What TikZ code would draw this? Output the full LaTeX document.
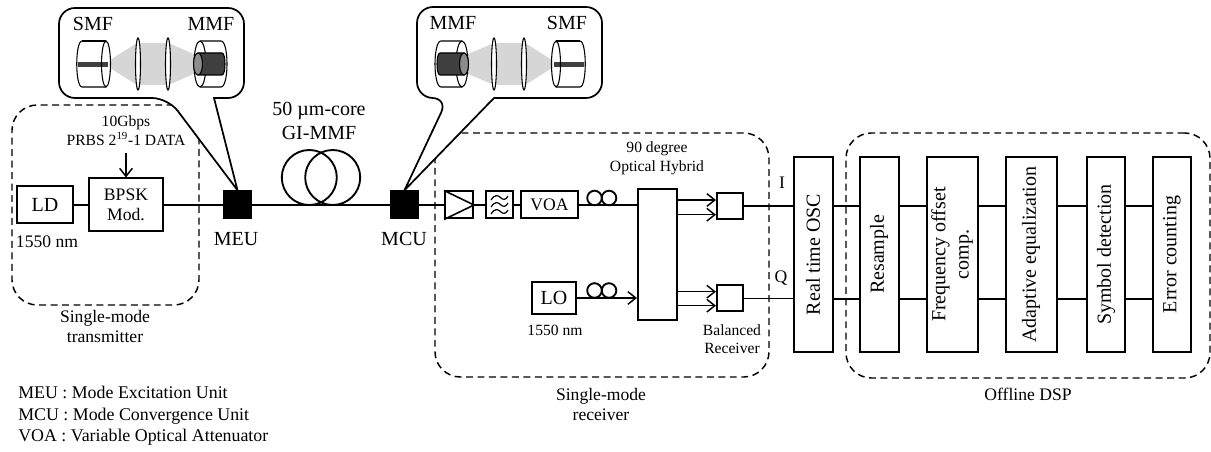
\documentclass[tikz,border=0pt]{standalone}
\usepackage{fontspec}
\setmainfont{Liberation Serif}
\usetikzlibrary{arrows.meta}
\tikzset{
  boxed/.style 2 args={draw, line width=1.5pt, inner sep=0pt, fill=white, minimum width=#1*0.75pt, minimum height=#2*0.75pt},
  solid box/.style 2 args={fill=black, inner sep=0pt, minimum width=#1*0.75pt, minimum height=#2*0.75pt},
  group/.style 2 args={draw, line width=1.1pt, dash pattern=on 5.2pt off 3.4pt, rounded corners=19pt, inner sep=0pt, minimum width=#1*0.75pt, minimum height=#2*0.75pt},
  big/.style={inner sep=0pt, align=center, font=\fontsize{15}{17.5}\selectfont},
  mid/.style={inner sep=0pt, align=center, font=\fontsize{13.2}{15}\selectfont},
  small/.style={inner sep=0pt, align=center, font=\fontsize{11.7}{14}\selectfont},
  fib/.style={line width=1.1pt},
  arr/.style={line width=1.1pt, -{Straight Barb[length=6pt,width=9.5pt,line width=1.1pt]}}
}
% one lens pair with its fibre ends, drawn once as it is and once mirrored
\newcommand{\lensoptics}[1]{
\begin{scope}[#1, line width=0.8pt]
\fill[black!16] (110,60) -- (137,43) -- (168,43) -- (196,55) -- (196,73) -- (168,85) -- (137,85) -- (110,68) -- cycle;
\foreach \lx in {138,168} \draw[fill=white] (\lx,64) ellipse [x radius=2.5, y radius=26];
\draw (82,41) .. controls (75,41) and (75,87) .. (82,87) -- (106,87);
\draw (82,41) -- (106,41);
\fill[black!75] (78,62) rectangle (108,67);
\draw (106,64) ellipse [x radius=4.5, y radius=23];
\draw (200,41) -- (221,41) .. controls (229,41) and (229,87) .. (221,87) -- (200,87);
\draw (200,64) ellipse [x radius=6, y radius=23];
\draw[fill=black!75] (198,53) -- (222,53) .. controls (226,53) and (226,75) .. (222,75) -- (198,75) -- cycle;
\draw[fill=black!45] (198,64) ellipse [x radius=4.5, y radius=11];
\end{scope}
}
\begin{document}
\begin{tikzpicture}[x=0.75pt, y=-0.75pt]
\useasboundingbox (0,0) rectangle (1211,452);

\node[group={187}{200}] (TX) at (105.5,205) {};
\node[group={334}{244}] (RX) at (602,255) {};
\node[group={364}{245}] (DSP) at (1028,255.5) {};

\node[boxed={56}{37}, big] (LD) at (45,205) {LD};
\node[boxed={74}{53}, mid] (BPSK) at (126,205) {BPSK\\Mod.};
\node[solid box={29}{29}] (MEU) at (237.5,205) {};
\node[solid box={29}{29}] (MCU) at (404.5,205) {};
\node[boxed={28}{27}] (AMP) at (459,205) {};
\node[boxed={27}{27}] (FLT) at (499.5,205) {};
\node[boxed={57}{27}, mid] (VOA) at (549.5,205) {VOA};
\node[boxed={39}{131}] (HYB) at (657.5,254.5) {};
\node[boxed={44}{32}, big] (LO) at (554,298) {LO};
\node[boxed={26}{26}] (BRI) at (730,206) {};
\node[boxed={26}{26}] (BRQ) at (730,298.5) {};
\node[boxed={195}{39}, big, rotate=90] (OSC) at (813,254.5) {Real time OSC};
\node[boxed={195}{39}, big, rotate=90] (RES) at (879,254.5) {Resample};
\node[boxed={195}{51}, big, rotate=90] (FRQ) at (952,254.5) {Frequency offset\\comp.};
\node[boxed={195}{51}, big, rotate=90] (ADP) at (1031,254.5) {Adaptive equalization};
\node[boxed={195}{38}, big, rotate=90] (SYM) at (1106,254.5) {Symbol detection};
\node[boxed={195}{38}, big, rotate=90] (ERR) at (1172,254.5) {Error counting};

\coordinate (BITS) at (126,153);
\coordinate (RAILI) at (0,206);
\coordinate (RAILQ) at (0,299);

\draw[fib] (LD) -- (BPSK);
\draw[fib] (BPSK) -- (MEU);
\draw[fib] (MEU) -- (MCU);
\draw[fib] (MCU) -- (AMP);
\draw[fib] (AMP) -- (FLT);
\draw[fib] (FLT) -- (VOA);
\draw[fib] (VOA) -- (VOA -| HYB.west);
\draw[arr] (BITS) -- (BPSK.north);
\draw[arr] (LO) -- (LO -| HYB.west);
\draw[line width=1.2pt] (AMP.north west) -- (AMP.east) -- (AMP.south west);
\foreach \wy in {198,205,212}
  \draw[line width=0.9pt, shift={(0,\wy)}] (491,2) .. controls (495,-4) and (498,-3) .. (501,0) .. controls (503,2) and (506,2) .. (508,-2);
\foreach \cx/\cy in {594.5/198,609/198,594.5/290.5,609/290.5}
  \draw[line width=1.4pt] (\cx,\cy) circle [radius=7.3];
\foreach \cx in {309.3,332.7}
  \draw[line width=1.4pt] (\cx,177.5) circle [radius=27.5];
\foreach \ay in {200,214.7}
  \draw[arr] (HYB.east |- 0,\ay) -- (BRI.west |- 0,\ay);
\foreach \ay in {291.7,305.7}
  \draw[arr] (HYB.east |- 0,\ay) -- (BRQ.west |- 0,\ay);
\draw[fib] (BRI) -- (BRI -| OSC.north);
\draw[fib] (BRQ) -- (BRQ -| OSC.north);
\foreach \from/\to in {OSC/RES,RES/FRQ,FRQ/ADP,ADP/SYM,SYM/ERR} {
  \draw[fib] (\from.south |- RAILI) -- (\to.north |- RAILI);
  \draw[fib] (\from.south |- RAILQ) -- (\to.north |- RAILQ);
}

\draw[line width=1.3pt, fill=white, rounded corners=12pt] (214,98) -- (244,98) -- (244,8) -- (59,8) -- (59,98) -- (168,98) [sharp corners] -- (MEU.north) -- cycle;
\draw[line width=1.3pt, fill=white, rounded corners=12pt] (494,98) -- (602,98) -- (602,7) -- (417,7) -- (417,98) -- (448,98) [sharp corners] -- (MCU.north) -- cycle;
\lensoptics{}
\lensoptics{shift={(662,0)}, xscale=-1}

\node[big] (tSMFa) at (93,24) {SMF};
\node[big] (tMMFa) at (211,24) {MMF};
\node[big] (tMMFb) at (453,23) {MMF};
\node[big] (tSMFb) at (567,23) {SMF};
\node[big] (tCORE) at (319,121) {50 µm-core\\GI-MMF};
\node[big] (tMEU) at (236,239) {MEU};
\node[big] (tMCU) at (404,239) {MCU};
\node[small] (tBITS) at (126,130.5) {10Gbps\\PRBS 2\textsuperscript{19}-1 DATA};
\node[mid] (tLD) at (47,242) {1550 nm};
\node[mid] (tTX) at (105,326) {Single-mode\\transmitter};
\node[mid] (tRX) at (601,404) {Single-mode\\receiver};
\node[mid] (tDSP) at (1028,394) {Offline DSP};
\node[small] (tHYB) at (657,158.5) {90 degree\\Optical Hybrid};
\node[small] (tLO) at (555,330) {1550 nm};
\node[small] (tBAL) at (732,339) {Balanced\\Receiver};
\node[mid] (tI) at (782,183) {I};
\node[mid] (tQ) at (781,278) {Q};
\node[mid, align=left, anchor=north west, font=\fontsize{13.4}{16.1}\selectfont] (tKEY) at (18,386) {MEU : Mode Excitation Unit\\MCU : Mode Convergence Unit\\VOA : Variable Optical Attenuator};
\end{tikzpicture}
\end{document}
